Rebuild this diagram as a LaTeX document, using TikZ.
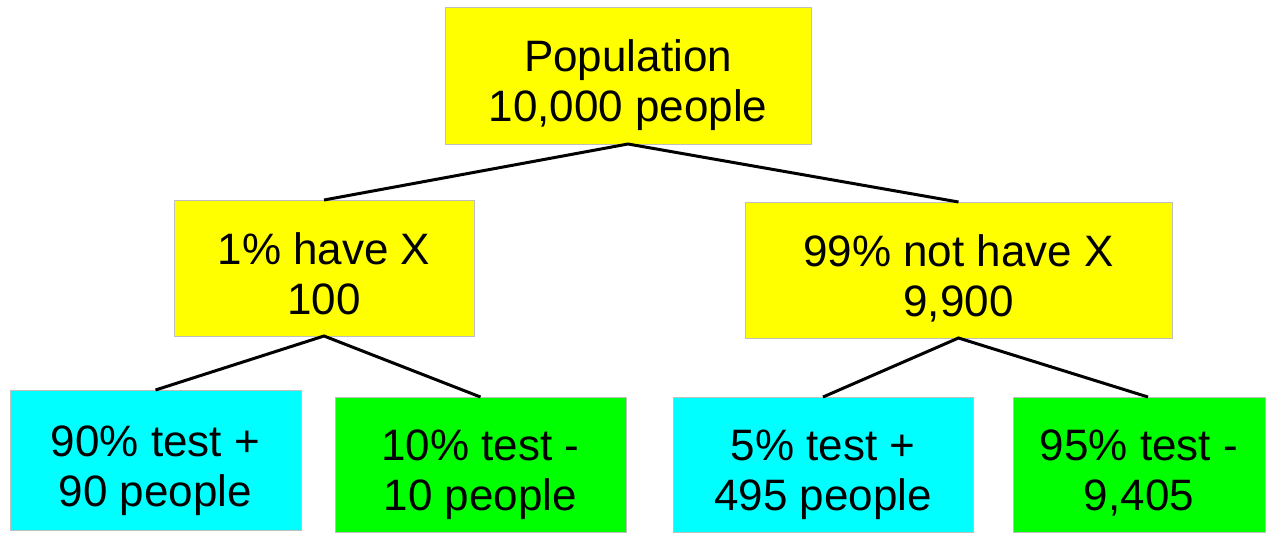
\documentclass[tikz,border=0pt]{standalone}
\usepackage{fontspec}
\setmainfont{Liberation Sans}
\usetikzlibrary{calc,positioning}
\definecolor{boxyellow}{RGB}{255,255,0}
\definecolor{boxcyan}{RGB}{0,255,255}
\definecolor{boxgreen}{RGB}{0,255,0}
\tikzstyle{group}=[
  draw=black!25,
  font={\fontsize{22}{25}\selectfont},
  align=center,
  inner sep=0pt,
  outer sep=0pt,
  rectangle,
  minimum height=68pt,
  text height=46pt,
  text depth=0pt,
]
\tikzstyle{branch}=[
  draw=black,
  line width=1.5pt,
]
\begin{document}
\begin{tikzpicture}[x=0.5pt,y=-0.5pt]
  \useasboundingbox (0,0) rectangle (1268,536);
  \node (population) [group, fill=boxyellow, minimum width=183pt, minimum height=68.5pt] at (628,75.5) {Population\\10,000 people};
  %%
  \node (haveX) [group, fill=boxyellow, minimum width=150pt] at (324,268) {1\% have X\\100};
  \node (nothaveX) [group, fill=boxyellow, minimum width=213.5pt] at (958.5,270) {99\% not have X\\9,900};
  %%
  \node (truepos) [group, fill=boxcyan, minimum width=145.5pt, minimum height=70pt] at (155.5,460) {90\% test +\\90 people};
  \node (falseneg) [group, fill=boxgreen, minimum width=145.5pt, minimum height=67.5pt] at (480.5,464.5) {10\% test -\\10 people};
  \node (falsepos) [group, fill=boxcyan, minimum width=150pt, minimum height=67.5pt] at (823,464.5) {5\% test +\\495 people};
  \node (trueneg) [group, fill=boxgreen, minimum width=126pt, minimum height=67.5pt] at (1139,464.5) {95\% test -\\9,405};
  %%
  \draw [branch] (haveX.north) -- (population.south) -- (nothaveX.north);
  \draw [branch] (truepos.north) -- (haveX.south) -- (falseneg.north);
  \draw [branch] (falsepos.north) -- (nothaveX.south) -- ($(trueneg.north)+(9,0)$);
\end{tikzpicture}
\end{document}
